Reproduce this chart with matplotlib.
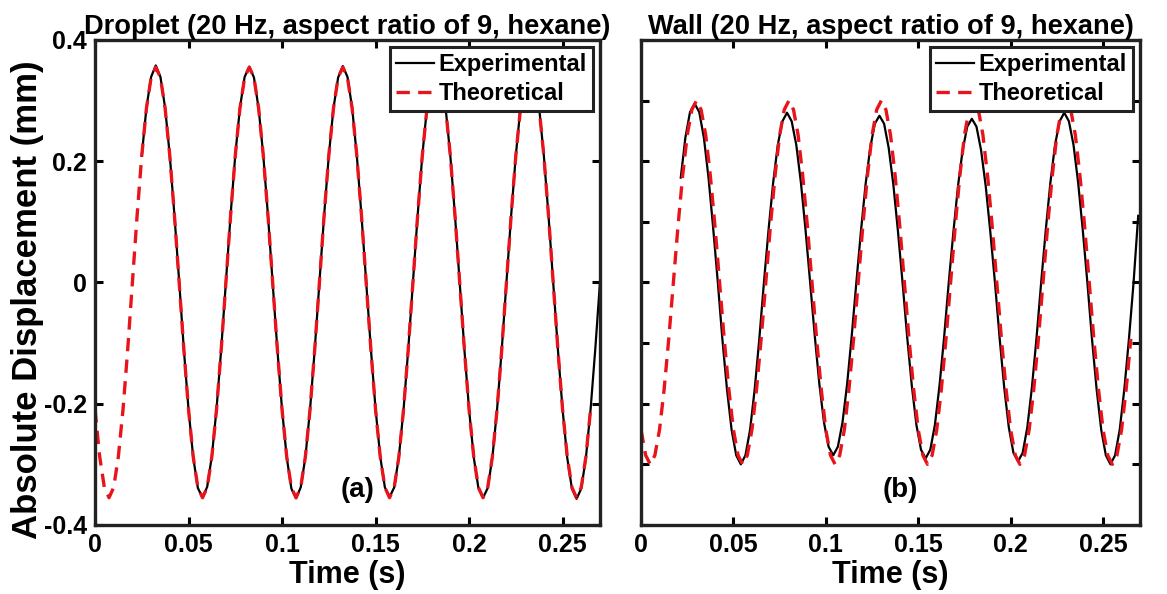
import numpy as np
import matplotlib
matplotlib.use('Agg')
import matplotlib.pyplot as plt

plt.rcParams['font.family'] = ['Liberation Sans', 'DejaVu Sans']
plt.rcParams['font.weight'] = 'bold'
plt.rcParams['axes.unicode_minus'] = False

# sample step of the curves (s)
dt = 0.0025

# droplet, theoretical (starts at t = 0)
drop_theo = [
    -0.209, -0.287, -0.338, -0.355, -0.338, -0.287, -0.209, -0.110, 0.000, 0.110,
    0.209, 0.287, 0.338, 0.355, 0.338, 0.287, 0.209, 0.110, 0.000, -0.110,
    -0.209, -0.287, -0.338, -0.355, -0.338, -0.287, -0.209, -0.110, 0.000, 0.110,
    0.209, 0.287, 0.338, 0.355, 0.338, 0.287, 0.209, 0.110, 0.000, -0.110,
    -0.209, -0.287, -0.338, -0.355, -0.338, -0.287, -0.209, -0.110, 0.000, 0.110,
    0.209, 0.287, 0.338, 0.355, 0.338, 0.287, 0.209, 0.110, 0.000, -0.110,
    -0.209, -0.287, -0.338, -0.355, -0.338, -0.287, -0.209, -0.110, 0.000, 0.110,
    0.209, 0.287, 0.338, 0.355, 0.338, 0.287, 0.209, 0.110, 0.000, -0.110,
    -0.209, -0.287, -0.338, -0.355, -0.338, -0.287, -0.209, -0.110, 0.000, 0.110,
    0.209, 0.287, 0.338, 0.355, 0.338, 0.287, 0.209, 0.110, 0.000, -0.110,
    -0.209, -0.287, -0.338, -0.355, -0.338, -0.287, -0.209,
]

# droplet, experimental (starts at t = 0.025)
drop_exp_t0 = 0.025
drop_exp = [
    0.209, 0.288, 0.339, 0.358, 0.339, 0.288, 0.209, 0.110, 0.002,
    -0.110, -0.209, -0.288, -0.339, -0.355, -0.337, -0.286, -0.208, -0.109, 0.001,
    0.111, 0.210, 0.288, 0.339, 0.356, 0.338, 0.287, 0.209, 0.110, -0.001,
    -0.110, -0.209, -0.288, -0.340, -0.356, -0.338, -0.288, -0.209, -0.110, 0.000,
    0.110, 0.209, 0.287, 0.338, 0.357, 0.339, 0.288, 0.209, 0.110, 0.001,
    -0.109, -0.208, -0.287, -0.338, -0.354, -0.338, -0.287, -0.209, -0.110, 0.000,
    0.110, 0.209, 0.288, 0.338, 0.355, 0.338, 0.287, 0.209, 0.110, 0.000,
    -0.110, -0.209, -0.288, -0.339, -0.355, -0.339, -0.288, -0.209, -0.110, 0.000,
    0.110, 0.209, 0.288, 0.338, 0.355, 0.338, 0.288, 0.209, 0.110, 0.000,
    -0.110, -0.209, -0.289, -0.340, -0.357, -0.340, -0.289, -0.209, -0.110, 0.000,
]

# wall, theoretical (starts at t = 0)
wall_theo = [
    -0.243, -0.285, -0.300, -0.285, -0.243, -0.176, -0.093, 0.000, 0.093, 0.176,
    0.243, 0.285, 0.300, 0.285, 0.243, 0.176, 0.093, 0.000, -0.093, -0.176,
    -0.243, -0.285, -0.300, -0.285, -0.243, -0.176, -0.093, 0.000, 0.093, 0.176,
    0.243, 0.285, 0.300, 0.285, 0.243, 0.176, 0.093, 0.000, -0.093, -0.176,
    -0.243, -0.285, -0.300, -0.285, -0.243, -0.176, -0.093, 0.000, 0.093, 0.176,
    0.243, 0.285, 0.300, 0.285, 0.243, 0.176, 0.093, 0.000, -0.093, -0.176,
    -0.243, -0.285, -0.300, -0.285, -0.243, -0.176, -0.093, 0.000, 0.093, 0.176,
    0.243, 0.285, 0.300, 0.285, 0.243, 0.176, 0.093, 0.000, -0.093, -0.176,
    -0.243, -0.285, -0.300, -0.285, -0.243, -0.176, -0.093, 0.000, 0.093, 0.176,
    0.243, 0.285, 0.300, 0.285, 0.243, 0.176, 0.093, 0.000, -0.093, -0.176,
    -0.243, -0.285, -0.300, -0.285, -0.243, -0.176, -0.093,
]

# wall, experimental (starts at t = 0.0215)
wall_exp_t0 = 0.0215
wall_exp = [
    0.173, 0.239, 0.281, 0.295, 0.281, 0.239, 0.173, 0.091, 0.002,
    -0.093, -0.176, -0.243, -0.285, -0.300, -0.285, -0.243, -0.176, -0.093, 0.000,
    0.087, 0.165, 0.227, 0.266, 0.280, 0.266, 0.227, 0.165, 0.087, 0.000,
    -0.088, -0.168, -0.231, -0.271, -0.285, -0.271, -0.231, -0.168, -0.088, 0.000,
    0.085, 0.162, 0.222, 0.262, 0.275, 0.262, 0.222, 0.162, 0.085, 0.000,
    -0.090, -0.170, -0.235, -0.276, -0.290, -0.276, -0.235, -0.170, -0.090, 0.000,
    0.083, 0.159, 0.218, 0.257, 0.270, 0.257, 0.218, 0.159, 0.083, 0.000,
    -0.091, -0.173, -0.239, -0.281, -0.295, -0.281, -0.239, -0.173, -0.091, 0.000,
    0.087, 0.165, 0.227, 0.266, 0.280, 0.266, 0.227, 0.165, 0.087, 0.000,
    -0.093, -0.176, -0.243, -0.285, -0.300, -0.285, -0.243, -0.176, -0.093, 0.000, 0.110,
]

xticks = [0, 0.05, 0.1, 0.15, 0.2, 0.25]
xticklabels = ['0', '0.05', '0.1', '0.15', '0.2', '0.25']
yticks_a = [-0.4, -0.2, 0, 0.2, 0.4]
yticklabels_a = ['-0.4', '-0.2', '0', '0.2', '0.4']
yticks_b = [-0.4, -0.3, -0.2, -0.1, 0, 0.1, 0.2, 0.3, 0.4]

titles = ['Droplet (20 Hz, aspect ratio of 9, hexane)',
          'Wall (20 Hz, aspect ratio of 9, hexane)']
panel_tags = ['(a)', '(b)']

fig = plt.figure(figsize=(11.67, 5.94), dpi=100)
ax1 = fig.add_axes([0.0814, 0.1162, 0.4327, 0.8165])
ax2 = fig.add_axes([0.5493, 0.1162, 0.4276, 0.8165])

series = [(drop_theo, drop_exp, drop_exp_t0), (wall_theo, wall_exp, wall_exp_t0)]

for i, ax in enumerate([ax1, ax2]):
    theo, exp, t0 = series[i]
    t_theo = np.arange(len(theo)) * dt
    t_exp = t0 + np.arange(len(exp)) * dt
    ax.plot(t_exp, exp, color='black', lw=1.6, label='Experimental')
    ax.plot(t_theo, theo, color='#e8141c', lw=2.4, ls=(0, (4, 2.5)), label='Theoretical')

    ax.set_xlim(0, 0.27)
    ax.set_ylim(-0.4, 0.4)
    ax.set_xticks(xticks)
    ax.set_xticklabels(xticklabels)
    ax.tick_params(direction='in', length=6, width=2.2, top=True, right=True,
                   labelsize=18, pad=6)
    for s in ax.spines.values():
        s.set_linewidth(2.4)
        s.set_color('#222222')
    ax.set_xlabel('Time (s)', fontsize=22, fontweight='bold', labelpad=2)
    ax.set_title(titles[i], fontsize=19.6, fontweight='bold', pad=4)
    ax.text(0.52, 0.072, panel_tags[i], transform=ax.transAxes, fontsize=20,
            fontweight='bold', ha='center', va='center')

    leg = ax.legend(loc='upper right', fontsize=17, frameon=True, fancybox=False,
                    edgecolor='#222222', framealpha=1, borderaxespad=0.3,
                    handlelength=1.6, handletextpad=0.2, borderpad=0.25,
                    labelspacing=0.25)
    leg.get_frame().set_linewidth(2.2)

ax1.set_yticks(yticks_a)
ax1.set_yticklabels(yticklabels_a)
ax1.set_ylabel('Absolute Displacement (mm)', fontsize=25, fontweight='bold')
ax1.yaxis.set_label_coords(-0.1, 0.464)

ax2.set_yticks(yticks_b)
ax2.set_yticklabels([])

fig.savefig('out.png', dpi=100)
